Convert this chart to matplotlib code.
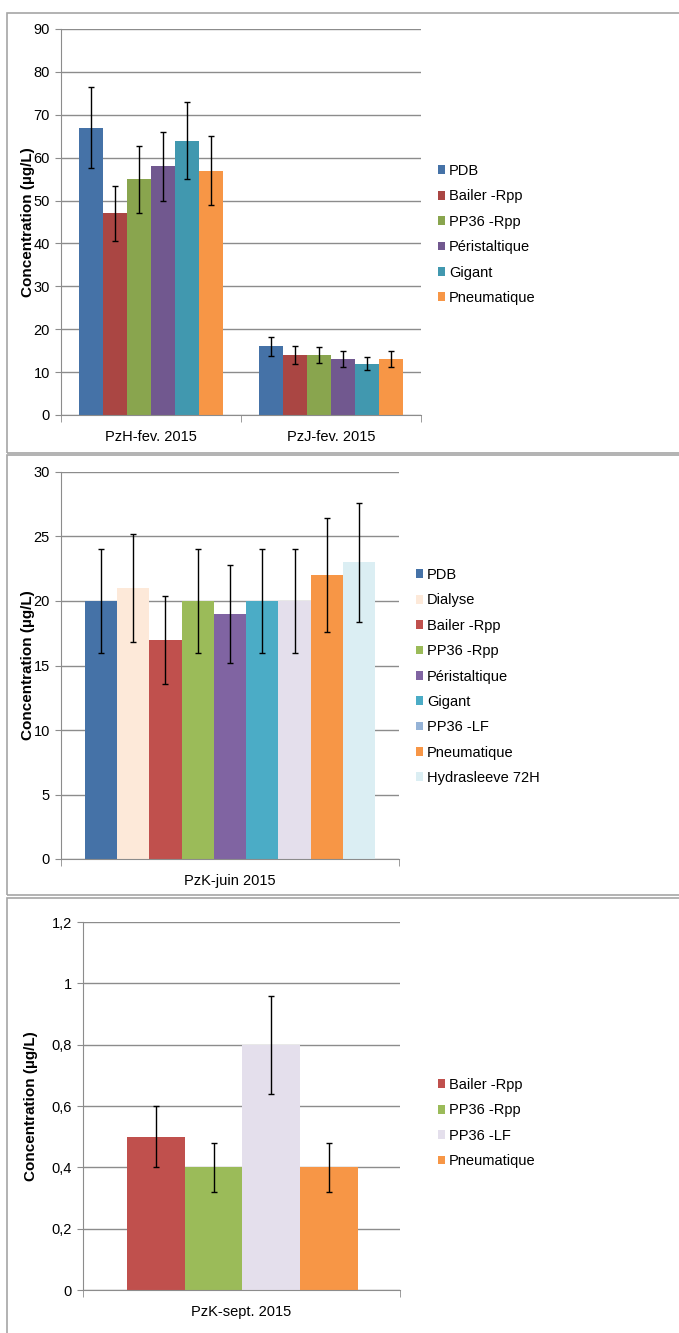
import numpy as np
import matplotlib.pyplot as plt
from matplotlib.patches import Patch, Rectangle

plt.rcParams['font.family'] = ['Liberation Sans', 'DejaVu Sans']

W, H = 679, 1333

# panel 1
cats1 = ["PzH-fev. 2015", "PzJ-fev. 2015"]
series1 = ["PDB", "Bailer -Rpp", "PP36 -Rpp", "Péristaltique", "Gigant", "Pneumatique"]
vals1 = [[67, 16], [47, 14], [55, 14], [58, 13], [64, 12], [57, 13]]
errs1 = [[9.4, 2.3], [6.5, 2.0], [7.8, 1.9], [8.1, 1.85], [8.9, 1.6], [8.0, 1.85]]
cols1 = ["#4572A7", "#AA4643", "#89A54E", "#71588F", "#4198AF", "#F79646"]

# panel 2
cats2 = ["PzK-juin 2015"]
series2 = ["PDB", "Dialyse", "Bailer -Rpp", "PP36 -Rpp", "Péristaltique", "Gigant",
           "PP36 -LF", "Pneumatique", "Hydrasleeve 72H"]
vals2 = [20, 21, 17, 20, 19, 20, 20, 22, 23]
errs2 = [4.0, 4.2, 3.4, 4.0, 3.8, 4.0, 4.0, 4.4, 4.6]
cols2 = ["#4572A7", "#FDE9D9", "#C0504D", "#9BBB59", "#8064A2", "#4BACC6",
         "#E4DFEC", "#F79646", "#DBEEF3"]
leg2 = ["#4572A7", "#FDE9D9", "#C0504D", "#9BBB59", "#8064A2", "#4BACC6",
        "#95B3D7", "#F79646", "#DBEEF3"]

# panel 3
cats3 = ["PzK-sept. 2015"]
series3 = ["Bailer -Rpp", "PP36 -Rpp", "PP36 -LF", "Pneumatique"]
vals3 = [0.5, 0.4, 0.8, 0.4]
errs3 = [0.1, 0.08, 0.16, 0.08]
cols3 = ["#C0504D", "#9BBB59", "#E4DFEC", "#F79646"]
yl3 = ["0", "0,2", "0,4", "0,6", "0,8", "1", "1,2"]

fig = plt.figure(figsize=(W/100, H/100), dpi=100)

# panel frames
for top, bot in [(13, 453), (455, 895), (898, 1345)]:
    fig.patches.append(Rectangle((7/W, 1-bot/H), 1, (bot-top)/H, transform=fig.transFigure,
                                 fill=False, edgecolor="#a6a6a6", lw=1.2))

def px_axes(l, r, t, b):
    return fig.add_axes([l/W, 1-b/H, (r-l)/W, (b-t)/H])

def style(ax, ncat, ymax, step, labx, ylabels=None):
    ax.set_xlim(-0.5, ncat-0.5)
    ax.set_ylim(0, ymax)
    ticks = np.arange(0, ymax+step/2, step)
    ax.set_yticks(ticks)
    if ylabels:
        ax.set_yticklabels(ylabels)
    ax.yaxis.grid(True, color="#8c8c8c", lw=1)
    ax.set_axisbelow(True)
    for s in ["top", "right"]:
        ax.spines[s].set_visible(False)
    for s in ["left", "bottom"]:
        ax.spines[s].set_color("#8c8c8c")
    ax.tick_params(axis="y", length=4, color="#8c8c8c", labelsize=10.5, pad=4)
    ax.set_xticks(np.arange(ncat))
    ax.set_xticks(np.arange(ncat+1)-0.5, minor=True)
    ax.tick_params(axis="x", which="major", length=0, labelsize=10.5, pad=11)
    ax.tick_params(axis="x", which="minor", length=5, color="#8c8c8c")
    ax.set_ylabel("Concentration (µg/L)", fontsize=11, fontweight="bold")
    # right edge of the rotated label, in pixels
    l = ax.get_position().x0 * W
    wd = ax.get_position().width * W
    ax.yaxis.set_label_coords((labx - l) / wd, 0.5)

def legend(ax, names, colors, x, y):
    hs = [Patch(facecolor=c, edgecolor="none") for c in colors]
    ax.legend(hs, names, loc="upper left", bbox_to_anchor=(x/W, 1-y/H),
              bbox_transform=fig.transFigure, frameon=False, fontsize=10.5,
              handlelength=0.5, handleheight=0.55, handletextpad=0.25,
              labelspacing=0.78, borderpad=0, borderaxespad=0)

ekw = dict(ecolor="black", elinewidth=1, capsize=2.5, capthick=1)

# panel 1
ax1 = px_axes(61, 421, 29, 415)
n = len(series1)
w = 0.8/n
x = np.arange(len(cats1))
for j in range(n):
    ax1.bar(x - 0.4 + w*(j+0.5), vals1[j], w, yerr=errs1[j], color=cols1[j],
            error_kw=ekw, zorder=2)
style(ax1, len(cats1), 90, 10, 35)
ax1.set_xticklabels(cats1)
legend(ax1, series1, cols1, 438, 164)

# panel 2
ax2 = px_axes(61, 399, 472, 859)
n = len(series2)
w = 0.86/n
for j in range(n):
    ax2.bar(-0.43 + w*(j+0.5), vals2[j], w, yerr=errs2[j], color=cols2[j],
            error_kw=ekw, zorder=2)
style(ax2, 1, 30, 5, 35)
ax2.set_xticklabels(cats2)
legend(ax2, series2, leg2, 416, 568)

# panel 3
ax3 = px_axes(83, 400, 922, 1290)
n = len(series3)
w = 0.73/n
for j in range(n):
    ax3.bar(-0.362 + w*(j+0.5), vals3[j], w, yerr=errs3[j], color=cols3[j],
            error_kw=ekw, zorder=2)
style(ax3, 1, 1.2, 0.2, 38, yl3)
ax3.set_xticklabels(cats3)
legend(ax3, series3, cols3, 438, 1078)

fig.savefig("out.png", dpi=100)
